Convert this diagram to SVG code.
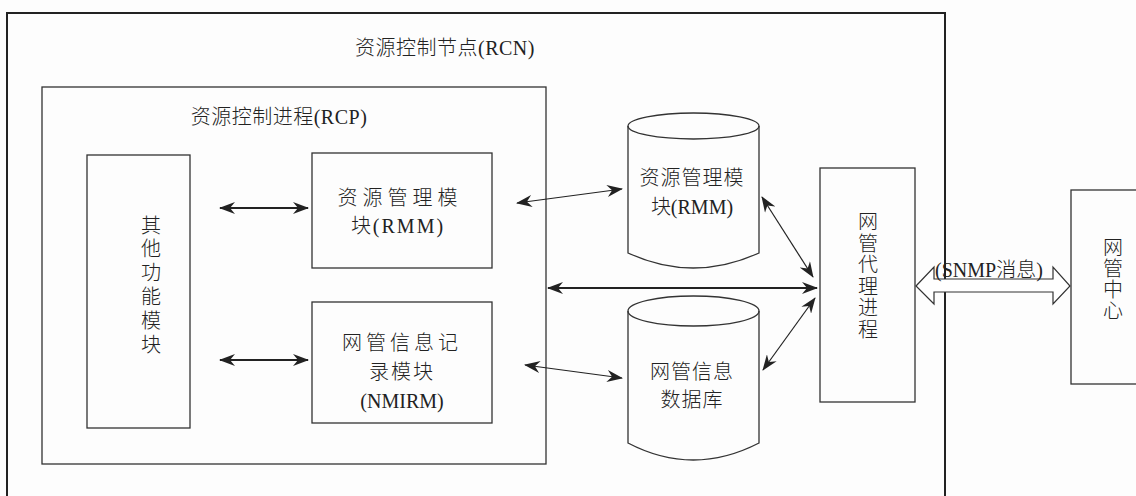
<svg xmlns="http://www.w3.org/2000/svg" width="1136" height="496" viewBox="0 0 1136 496">
<style>
.t{font-family:"Liberation Serif","Noto Sans CJK SC",serif;font-size:20px;font-weight:300;fill:#222;}
.m{text-anchor:middle;}
.box{fill:none;stroke:#333;stroke-width:1.3;}
.c1{fill:none;stroke:#222;stroke-width:2.2;}
.c2{fill:none;stroke:#222;stroke-width:1.2;}
</style>
<defs>
<marker id="ah" viewBox="0 0 16 12" refX="15" refY="6" markerWidth="16" markerHeight="12" markerUnits="userSpaceOnUse" orient="auto-start-reverse">
<path d="M0,0 L16,6 L0,12 L5,6 Z" fill="#222"/>
</marker>
</defs>
<rect width="1136" height="496" fill="#fdfdfd"/>
<g id="rcn">
<rect x="7" y="13" width="938" height="500" fill="none" stroke="#222" stroke-width="2"/>
<text class="t m" x="445" y="55" letter-spacing="0.5">资源控制节点(RCN)</text>
</g>
<g id="rcp">
<rect class="box" x="42" y="87" width="504" height="377"/>
<text class="t m" x="279" y="124" letter-spacing="0.5">资源控制进程(RCP)</text>
</g>
<g id="other">
<rect class="box" x="87" y="155" width="103" height="273"/>
<text class="t m" x="151" y="233">其</text>
<text class="t m" x="151" y="256">他</text>
<text class="t m" x="151" y="280">功</text>
<text class="t m" x="151" y="304">能</text>
<text class="t m" x="151" y="328">模</text>
<text class="t m" x="151" y="352">块</text>
</g>
<g id="rmm">
<rect class="box" x="312" y="153" width="180" height="115"/>
<text class="t m" x="400" y="205" font-size="19" letter-spacing="5">资源管理模</text>
<text class="t m" x="398" y="233" letter-spacing="2">块(RMM)</text>
</g>
<g id="nmirm">
<rect class="box" x="312" y="302" width="180" height="121"/>
<text class="t m" x="402" y="350" font-size="19" letter-spacing="4">网管信息记</text>
<text class="t m" x="402" y="379" font-size="19" letter-spacing="2">录模块</text>
<text class="t m" x="402" y="408">(NMIRM)</text>
</g>
<g id="db-rmm">
<path class="box" d="M628,126 L628,253 Q693,283 759,253 L759,126" fill="#fff"/>
<ellipse class="box" cx="693.5" cy="126" rx="65.5" ry="13"/>
<text class="t m" x="692" y="185" letter-spacing="1">资源管理模</text>
<text class="t m" x="692" y="214">块(RMM)</text>
</g>
<g id="db-nm">
<path class="box" d="M628,311 L628,443 Q693,477 759,443 L759,311"/>
<ellipse class="box" cx="693.5" cy="311" rx="65.5" ry="15"/>
<text class="t m" x="692" y="379" letter-spacing="1">网管信息</text>
<text class="t m" x="692" y="407" letter-spacing="1">数据库</text>
</g>
<g id="agent">
<rect class="box" x="820" y="168" width="95" height="234"/>
<text class="t m" x="868" y="229">网</text>
<text class="t m" x="868" y="251">管</text>
<text class="t m" x="868" y="272">代</text>
<text class="t m" x="868" y="294">理</text>
<text class="t m" x="868" y="315">进</text>
<text class="t m" x="868" y="337">程</text>
</g>
<g id="nmc">
<rect class="box" x="1071" y="190" width="80" height="194"/>
<text class="t m" x="1113" y="255">网</text>
<text class="t m" x="1113" y="276">管</text>
<text class="t m" x="1113" y="297">中</text>
<text class="t m" x="1113" y="318">心</text>
</g>
<g id="connectors">
<line class="c1" x1="220" y1="208" x2="308" y2="208" marker-start="url(#ah)" marker-end="url(#ah)"/>
<line class="c1" x1="220" y1="360" x2="308" y2="360" marker-start="url(#ah)" marker-end="url(#ah)"/>
<line class="c1" x1="548" y1="288" x2="817" y2="288" marker-start="url(#ah)" marker-end="url(#ah)"/>
<line class="c2" x1="517" y1="203" x2="622" y2="189" marker-start="url(#ah)" marker-end="url(#ah)"/>
<line class="c2" x1="762" y1="197" x2="813" y2="277" marker-start="url(#ah)" marker-end="url(#ah)"/>
<line class="c2" x1="815" y1="298" x2="763" y2="370" marker-start="url(#ah)" marker-end="url(#ah)"/>
<line class="c2" x1="525" y1="365" x2="622" y2="378" marker-start="url(#ah)" marker-end="url(#ah)"/>
<path d="M916,286 L934,267 L934,279 L1053,279 L1053,267 L1070,286 L1053,304 L1053,292 L934,292 L934,304 Z" fill="#fff" stroke="#333" stroke-width="1.2"/>
<text class="t" x="935" y="277" font-size="19">(SNMP消息)</text>
</g>
</svg>
